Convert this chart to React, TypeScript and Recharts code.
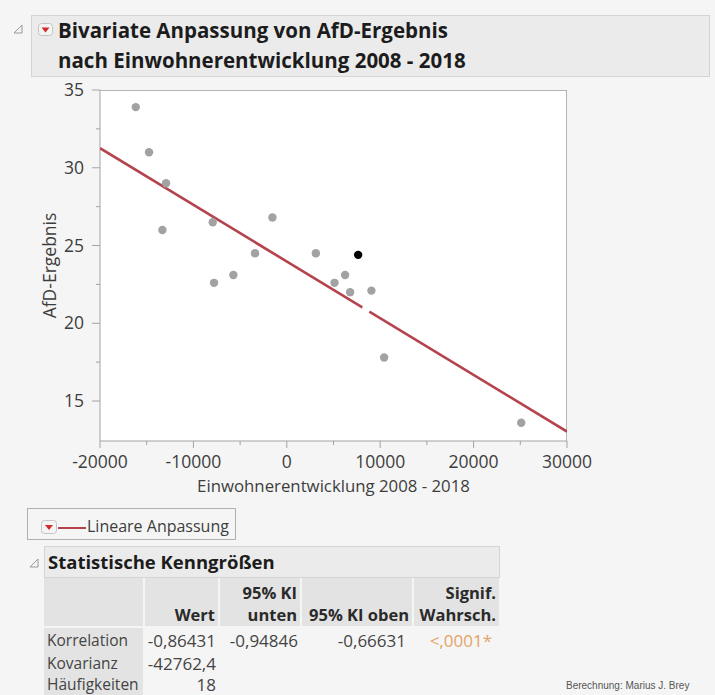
import { ScatterChart, Scatter, XAxis, YAxis } from 'recharts'

// Einwohnerentwicklung 2008-2018 (x) vs. AfD-Ergebnis in % (y)
const GROWTH = [-16170, -14750, -12930, -13320, -7930, -1540, -3400, -5720, -7790, 3110, 5110, 6240, 6780, 9060, 10420, 25100]
const AFD = [33.9, 31.0, 29.0, 26.0, 26.5, 26.8, 24.5, 23.1, 22.6, 24.5, 22.6, 23.1, 22.0, 22.1, 17.8, 13.6]

// selected row (black marker)
const SEL_GROWTH = [7640]
const SEL_AFD = [24.4]

// hidden rows (white markers)
const HID_GROWTH = [-360, 8490]
const HID_AFD = [21.5, 20.9]

// linear fit
const FIT = { intercept: 23.97, slope: -0.0003646 }

const X_DOMAIN = [-20000, 30000]
const Y_DOMAIN = [12.43, 35]
const X_MAJOR = [-20000, -10000, 0, 10000, 20000, 30000]
const X_MINOR = [-15000, -5000, 5000, 15000, 25000]
const Y_MAJOR = [15, 20, 25, 30, 35]
const Y_MINOR = [17.5, 22.5, 27.5, 32.5]

// column headers, split into their two lines
const STATS_COLS = [
  ['', 'Wert'],
  ['95% KI', 'unten'],
  ['', '95% KI oben'],
  ['Signif.', 'Wahrsch.'],
]
const STATS_ROWS = [
  { name: 'Korrelation', cells: ['-0,86431', '-0,94846', '-0,66631', '<,0001*'] },
  { name: 'Kovarianz', cells: ['-42762,4', '', '', ''] },
  { name: 'Häufigkeiten', cells: ['18', '', '', ''] },
]

const FONT = '"Open Sans", "Noto Sans", sans-serif'
const AXIS = '#a3a3a3'
const TXT = '#3d3d3d'
const FIT_COLOR = '#b5434d'

const toPoints = (xs: number[], ys: number[]) => xs.map((x, i) => ({ x, y: ys[i] }))
const points = toPoints(GROWTH, AFD)
const selected = toPoints(SEL_GROWTH, SEL_AFD)
const hidden = toPoints(HID_GROWTH, HID_AFD)
const fitLine = X_DOMAIN.map(x => ({ x, y: FIT.intercept + FIT.slope * x }))

const dot = (fill: string) => (p: any) => <circle cx={p.cx} cy={p.cy} r={4.2} fill={fill} />

const XTick = (props: any) => {
  const { x, y, payload } = props
  const major = X_MAJOR.includes(payload.value)
  return (
    <g>
      <line x1={x} x2={x} y1={y} y2={y + (major ? 7 : 4)} stroke={AXIS} />
      {major && (
        <text x={x} y={y + 27} textAnchor="middle" fontFamily={FONT} fontSize={17.5} fill={TXT}>
          {payload.value}
        </text>
      )}
    </g>
  )
}

const YTick = (props: any) => {
  const { x, y, payload } = props
  const major = Y_MAJOR.includes(payload.value)
  return (
    <g>
      <line x1={x} x2={x - (major ? 8 : 4)} y1={y} y2={y} stroke={AXIS} />
      {major && (
        <text x={x - 16} y={y} dy="0.35em" textAnchor="end" fontFamily={FONT} fontSize={17.5} fill={TXT}>
          {payload.value}
        </text>
      )}
    </g>
  )
}

function Disclosure({ x, y }: { x: number; y: number }) {
  return (
    <svg style={{ position: 'absolute', left: x, top: y }} width={10} height={10}>
      <path d="M9 1 L9 9 L1 9 Z" fill="none" stroke="#999" strokeWidth={1} />
    </svg>
  )
}

function RedButton({ x, y, w = 15, h = 13 }: { x: number; y: number; w?: number; h?: number }) {
  return (
    <svg style={{ position: 'absolute', left: x, top: y }} width={w} height={h}>
      <rect x={0.5} y={0.5} width={w - 1} height={h - 1} rx={3} fill="#f4f4f4" stroke="#c4c4c4" />
      <path d={`M${w / 2 - 4} ${h / 2 - 2} L${w / 2 + 4} ${h / 2 - 2} L${w / 2} ${h / 2 + 3} Z`} fill="#d22b2b" />
    </svg>
  )
}

const abs = (left: number, top: number, extra: React.CSSProperties = {}): React.CSSProperties => ({
  position: 'absolute',
  left,
  top,
  ...extra,
})

// table geometry
const COL_X = [44, 145, 220, 302, 414]
const COL_W = [99, 73, 80, 110, 85]
const ROW_Y = [630, 653, 674]

export default function App() {
  const headStyle = (i: number, top: number) =>
    abs(COL_X[i + 1], top, { width: COL_W[i + 1] - 3, textAlign: 'right', fontSize: 16.5, fontWeight: 700, lineHeight: '22px', color: '#2a2a2a', whiteSpace: 'nowrap' })

  return (
    <div style={{ position: 'absolute', left: 0, top: 0, width: 715, height: 695, background: '#f5f5f5', overflow: 'hidden', fontFamily: FONT }}>
      {/* title bar */}
      <Disclosure x={13} y={24} />
      <div style={abs(31, 15, { width: 677, height: 60, background: '#ebebeb', border: '1px solid #d4d4d4' })} />
      <RedButton x={38} y={23} />
      <div style={abs(58, 15, { fontSize: 20.5, fontWeight: 700, lineHeight: '30px', color: '#1c1c1c', whiteSpace: 'nowrap' })}>
        Bivariate Anpassung von AfD-Ergebnis
        <br />
        nach Einwohnerentwicklung 2008 - 2018
      </div>

      {/* plot frame */}
      <div style={abs(100, 90, { width: 467, height: 351, background: '#ffffff', borderTop: '1px solid #b5b5b5', borderRight: '1px solid #b5b5b5', boxSizing: 'border-box' })} />

      <div style={abs(0, 0)}>
        <ScatterChart width={600} height={500} margin={{ top: 90, right: 33, bottom: 0, left: 0 }}>
          <XAxis
            type="number"
            dataKey="x"
            domain={X_DOMAIN}
            ticks={[...X_MAJOR, ...X_MINOR].sort((a, b) => a - b)}
            interval={0}
            allowDataOverflow
            height={59}
            tickSize={0}
            tickMargin={0}
            tickLine={false}
            axisLine={{ stroke: AXIS }}
            tick={XTick}
            label={{ value: 'Einwohnerentwicklung 2008 - 2018', position: 'insideBottom', offset: 8, fontFamily: FONT, fontSize: 16.8, fill: TXT }}
          />
          <YAxis
            type="number"
            dataKey="y"
            domain={Y_DOMAIN}
            ticks={[...Y_MAJOR, ...Y_MINOR].sort((a, b) => a - b)}
            interval={0}
            allowDataOverflow
            width={100}
            tickSize={0}
            tickMargin={0}
            tickLine={false}
            axisLine={{ stroke: AXIS }}
            tick={YTick}
            label={{ value: 'AfD-Ergebnis', angle: -90, position: 'center', fontFamily: FONT, fontSize: 17.5, fill: TXT }}
          />
          <Scatter data={fitLine} line={{ stroke: FIT_COLOR, strokeWidth: 2.6 }} shape={() => <g />} isAnimationActive={false} />
          <Scatter data={points} shape={dot('#a2a2a2')} isAnimationActive={false} />
          <Scatter data={selected} shape={dot('#000000')} isAnimationActive={false} />
          <Scatter data={hidden} shape={dot('#ffffff')} isAnimationActive={false} />
        </ScatterChart>
      </div>

      {/* fit legend */}
      <div style={abs(27, 508, { width: 207, height: 30, border: '1px solid #b0b0b0' })} />
      <RedButton x={41} y={520} w={16} h={14} />
      <div style={abs(58, 527, { width: 28, height: 2, background: FIT_COLOR })} />
      <div style={abs(87, 515, { fontSize: 16, color: TXT, lineHeight: '22px', whiteSpace: 'nowrap' })}>Lineare Anpassung</div>

      {/* statistics header */}
      <Disclosure x={29} y={558} />
      <div style={abs(44, 546, { width: 454, height: 30, background: '#ebebeb', border: '1px solid #d4d4d4' })} />
      <div style={abs(48, 547, { fontSize: 18.5, fontWeight: 700, lineHeight: '30px', color: '#1c1c1c', whiteSpace: 'nowrap' })}>
        Statistische Kenngrößen
      </div>

      {/* statistics table */}
      {COL_X.map((x, i) => (
        <div key={'h' + i} style={abs(x, 578, { width: COL_W[i], height: 48, background: '#e3e3e3' })} />
      ))}
      <div style={abs(COL_X[0], 628, { width: COL_W[0], height: 70, background: '#e3e3e3' })} />
      {STATS_COLS.map(([top, bottom], i) => (
        <div key={i}>
          {top && <div style={headStyle(i, 582)}>{top}</div>}
          <div style={headStyle(i, 604)}>{bottom}</div>
        </div>
      ))}
      {STATS_ROWS.map((r, ri) => (
        <div key={r.name}>
          <div style={abs(47, ROW_Y[ri], { fontSize: 15.5, lineHeight: '21px', color: '#444', whiteSpace: 'nowrap' })}>{r.name}</div>
          {r.cells.map((v, ci) =>
            v ? (
              <div
                key={ci}
                style={abs(COL_X[ci + 1], ROW_Y[ri], {
                  width: COL_W[ci + 1] - (ci === 3 ? 7 : ci === 2 ? 6 : 2),
                  textAlign: 'right',
                  fontSize: 17,
                  lineHeight: '21px',
                  color: ci === 3 ? '#e4a468' : '#444',
                  whiteSpace: 'nowrap',
                })}
              >
                {v}
              </div>
            ) : null
          )}
        </div>
      ))}

      <div style={abs(566, 680, { fontFamily: '"Liberation Sans", Arial, sans-serif', fontSize: 10, color: '#555', whiteSpace: 'nowrap' })}>
        Berechnung: Marius J. Brey
      </div>
    </div>
  )
}
